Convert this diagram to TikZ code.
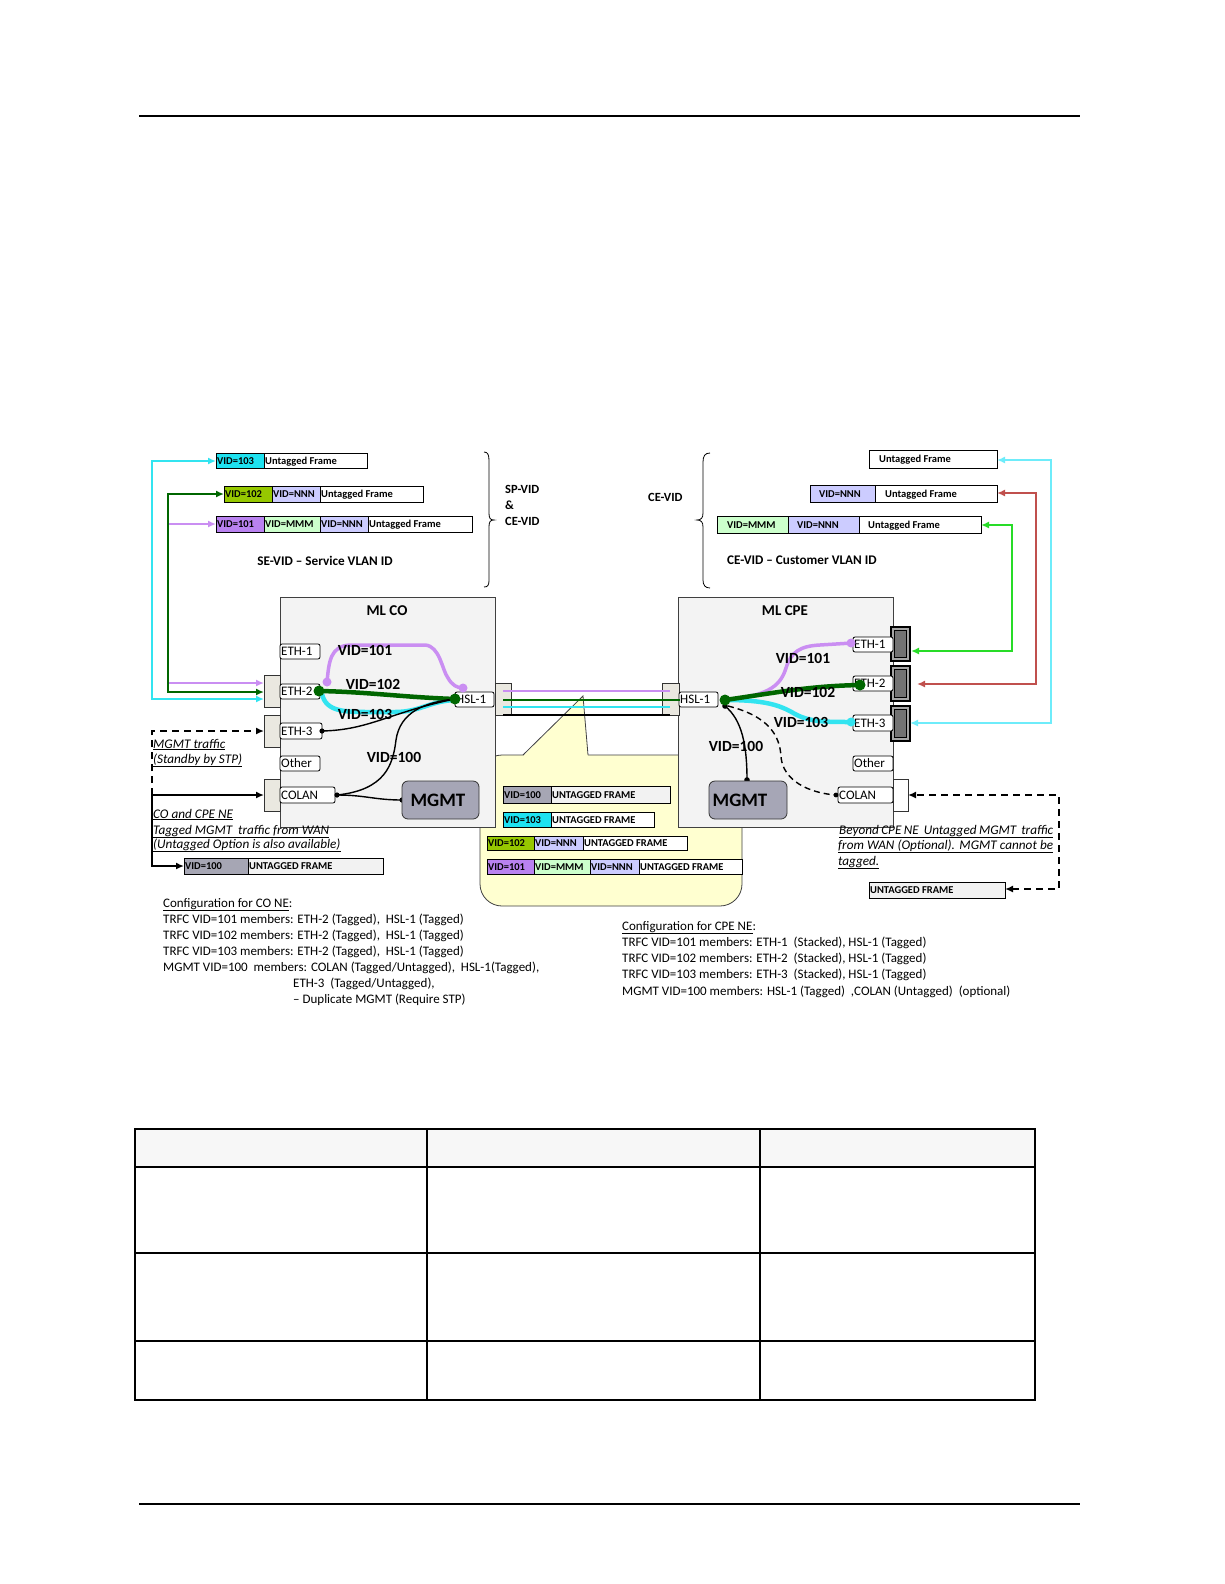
\documentclass[tikz,border=0pt]{standalone}
\usepackage{fontspec}
\setmainfont{Carlito}
\usetikzlibrary{arrows.meta}
\definecolor{cyanln}{RGB}{50,228,240}
\definecolor{cyanR}{RGB}{110,236,250}
\definecolor{cyanbox}{RGB}{30,226,240}
\definecolor{dgreen}{RGB}{0,102,0}
\definecolor{lavln}{RGB}{202,142,242}
\definecolor{purp}{RGB}{185,130,240}
\definecolor{olive}{RGB}{150,200,0}
\definecolor{lav}{RGB}{204,204,255}
\definecolor{lgreen}{RGB}{204,255,204}
\definecolor{gvid}{RGB}{166,166,180}
\definecolor{lgray}{RGB}{242,242,242}
\definecolor{boxfill}{RGB}{243,243,243}
\definecolor{portfill}{RGB}{234,232,224}
\definecolor{bgreen}{RGB}{40,220,40}
\definecolor{brownln}{RGB}{192,80,77}
\definecolor{yel}{RGB}{255,255,208}
\definecolor{mgmtfill}{RGB}{166,166,182}
\definecolor{hdr}{RGB}{247,247,247}
\tikzset{
  segline/.style={draw=black, line width=0.8pt},
  segtxt/.style={font=\fontsize{10.5}{12}\selectfont\bfseries, inner sep=0pt, anchor=base west},
  lboxline/.style={draw=black, line width=0.8pt, fill=white, rounded corners=2pt},
  lbl/.style={font=\fontsize{13}{15}\selectfont, inner sep=0pt, anchor=base west},
  vidlbl/.style={font=\fontsize{15.5}{17}\selectfont\bfseries, inner sep=0pt},
  title/.style={font=\fontsize{15}{17}\selectfont\bfseries, inner sep=0pt},
  bold12/.style={font=\fontsize{12.5}{14}\selectfont\bfseries, inner sep=0pt},
  caption/.style={font=\fontsize{13.2}{15}\selectfont\bfseries, inner sep=0pt},
  cfg/.style={font=\fontsize{13}{15}\selectfont, inner sep=0pt, anchor=base west},
  note/.style={font=\fontsize{13.2}{15}\selectfont\itshape, inner sep=0pt, anchor=base west},
  mlbox/.style={draw=black!75, line width=0.8pt, fill=boxfill},
  portblk/.style={draw=black!80, line width=0.8pt, fill=portfill},
  mgmtbox/.style={draw=black!80, line width=0.8pt, fill=mgmtfill, rounded corners=6pt},
  tip/.tip={Latex[length=8pt,width=7pt]},
  fat/.style={line width=2pt},
}
\newcommand\seg[8]{\draw[segline,fill=#2] (#3,#5) rectangle (#4,#6); \node[segtxt] (#1) at ({#3+#8},{(#5+#6)/2+3.5}) {#7};}
\newcommand\lbox[6]{\draw[lboxline] (#2,#4) rectangle (#3,#5); \node[lbl] (#1) at ({#2+1},{(#4+#5)/2+4.2}) {#6};}
\begin{document}
\begin{tikzpicture}[x=1pt,y=-1pt]
\useasboundingbox (0,0) rectangle (1224,1584);
\fill[white] (0,0) rectangle (1224,1584);
% page rules
\draw[line width=1.3pt] (139,116) -- (1080,116);
\draw[line width=1.3pt] (139,1504) -- (1080,1504);

% ---------- top left frames
\seg{f103a}{cyanbox}{216}{264}{453}{468}{VID=103}{1}
\seg{f103b}{white}{264}{367}{453}{468}{Untagged Frame}{1}
\seg{f102a}{olive}{224}{272}{486}{502}{VID=102}{1}
\seg{f102b}{lav}{272}{320}{486}{502}{VID=NNN}{1}
\seg{f102c}{white}{320}{423}{486}{502}{Untagged Frame}{1}
\seg{f101a}{purp}{216}{264}{516}{532}{VID=101}{1}
\seg{f101b}{lgreen}{264}{320}{516}{532}{VID=MMM}{1}
\seg{f101c}{lav}{320}{368}{516}{532}{VID=NNN}{1}
\seg{f101d}{white}{368}{472}{516}{532}{Untagged Frame}{1}
\node[caption, anchor=base] (sevid) at (325,565) {SE-VID – Service VLAN ID};

% braces
\draw[line width=0.8pt] (484,452) .. controls (488,452) and (489,455) .. (489,461) -- (489,513) .. controls (489,518) and (490,520) .. (494,520) .. controls (490,520) and (489,522) .. (489,527) -- (489,580) .. controls (489,585) and (488,587) .. (484,587);
\draw[line width=0.8pt] (710,453) .. controls (705,453) and (703,456) .. (703,462) -- (703,513) .. controls (703,518) and (701,520) .. (697,520) .. controls (701,520) and (703,522) .. (703,527) -- (703,580) .. controls (703,585) and (705,588) .. (710,588);
\node[bold12, anchor=base west] (spvid) at (505,493) {SP-VID};
\node[bold12, anchor=base west] (amp) at (505,509) {\&};
\node[bold12, anchor=base west] (cevid1) at (505,525) {CE-VID};
\node[bold12, anchor=base west] (cevid2) at (648,501) {CE-VID};

% ---------- top right frames
\seg{r1}{white}{869}{997}{450}{468}{Untagged Frame}{10}
\seg{r2a}{lav}{810}{875}{485}{502}{VID=NNN}{9}
\seg{r2b}{white}{875}{997}{485}{502}{Untagged Frame}{10}
\seg{r3a}{lgreen}{717}{788}{516}{533}{VID=MMM}{10}
\seg{r3b}{lav}{788}{859}{516}{533}{VID=NNN}{9}
\seg{r3c}{white}{859}{981}{516}{533}{Untagged Frame}{9}
\node[caption, anchor=base west] (cevidtxt) at (727,564) {CE-VID – Customer VLAN ID};

% ---------- yellow callout
\draw[draw=black!75, line width=0.8pt, fill=yel, rounded corners=22pt] (480,755) rectangle (742,906);
\fill[yel] (523,756) -- (583,696) -- (588,756) -- cycle;
\draw[line width=0.8pt, black!75] (523,755) -- (583,696) -- (588,755);

% ---------- ML boxes
\draw[mlbox] (280,597) rectangle (495,827);
\node[title] (mlco) at (387,611) {ML CO};
\draw[mlbox] (678,597) rectangle (893,827);
\node[title] (mlcpe) at (785,611) {ML CPE};

% port blocks
\draw[portblk] (264,675) rectangle (280,707);
\draw[portblk] (264,715) rectangle (280,747);
\draw[portblk] (264,779) rectangle (280,811);
\draw[portblk] (495,683) rectangle (511,715);
\draw[portblk] (662,683) rectangle (679,715);
\draw[draw=black!80, line width=0.8pt, fill=white] (893,779) rectangle (908,811);
\foreach \ya/\yb in {627/661, 666/701, 706/741}{
  \draw[draw=black, line width=1.6pt, fill=black!35] (891,\ya) rectangle (910,\yb);
  \draw[draw=black, line width=1.1pt, fill=black!55] (894.5,\ya+3.5) rectangle (906.5,\yb-3.5);
}

% label boxes CO
\lbox{coE1}{280}{320}{644}{659}{ETH-1}
\lbox{coE2}{280}{320}{684}{699}{ETH-2}
\lbox{coE3}{280}{322}{723}{739}{ETH-3}
\lbox{coOth}{280}{320}{756}{771}{Other}
\lbox{coCol}{280}{335}{787}{803}{COLAN}
\lbox{coHsl}{455}{494}{692}{707}{HSL-1}
% label boxes CPE
\lbox{cpHsl}{679}{718}{692}{707}{HSL-1}
\lbox{cpE1}{853}{893}{637}{652}{ETH-1}
\lbox{cpE2}{853}{893}{676}{691}{ETH-2}
\lbox{cpE3}{853}{893}{715}{731}{ETH-3}
\lbox{cpOth}{853}{893}{756}{771}{Other}
\lbox{cpCol}{838}{893}{787}{803}{COLAN}

% link lines
\draw[lavln, line width=2.5pt] (503,691) -- (670,691);
\draw[dgreen, line width=2.5pt] (503,700) -- (680,700);
\draw[cyanln, line width=2.5pt] (503,707) -- (670,707);
\draw[black, line width=2.5pt] (503,715) -- (670,715);

% ---------- CO internal curves
\draw[lavln, line width=3.5pt] (327,682) .. controls (329,662) and (330,646) .. (350,645) -- (425,645) .. controls (440,646) and (442,670) .. (448,678) .. controls (452,685) and (457,688) .. (463,688);
\fill[lavln] (327,682) circle (4.5);
\fill[lavln] (463,688) circle (4.5);
\draw[cyanln, line width=4.5pt] (322,694) .. controls (326,712) and (345,712) .. (370,712) -- (395,712) .. controls (420,712) and (430,701) .. (455,700);
\draw[dgreen, line width=4.5pt] (319,691) .. controls (370,692) and (400,697) .. (455,699);
\draw[black, line width=1.4pt] (322,731) .. controls (370,730) and (390,712) .. (455,699);
\draw[black, line width=1.4pt] (337,795) .. controls (385,790) and (393,765) .. (396,740) .. controls (400,712) and (425,702) .. (455,699);
\draw[black, line width=1.4pt] (337,795) .. controls (365,795) and (375,800) .. (402,800);
\fill (322,731) circle (2.6);
\fill (337,795) circle (2.6);
\fill (402,800) circle (2.6);
\fill[dgreen] (319,691) circle (5.5);
\fill[dgreen] (455,699) circle (5.5);

\draw[mgmtbox] (402,781) rectangle (479,819);
\node[font=\fontsize{19}{21}\selectfont\bfseries, inner sep=0pt] (coMgmt) at (438,800) {MGMT};

\node[vidlbl] (v101a) at (365,650) {VID=101};
\node[vidlbl] (v102a) at (373,684) {VID=102};
\node[vidlbl] (v103a) at (365,714) {VID=103};
\node[vidlbl] (v100a) at (394,757) {VID=100};

% ---------- CPE internal curves
\draw[lavln, line width=3.5pt] (725,700) .. controls (765,696) and (780,688) .. (786,668) .. controls (791,652) and (800,646) .. (820,645) -- (852,643);
\fill[lavln] (851,643) circle (4.5);
\draw[cyanln, line width=4.5pt] (725,700) .. controls (765,700) and (780,705) .. (795,714) .. controls (810,722) and (825,722) .. (852,722);
\fill[cyanln] (851,722) circle (4.5);
\draw[dgreen, line width=4.5pt] (725,700) .. controls (780,692) and (810,686) .. (860,685);
\fill[dgreen] (860,685) circle (5.5);
\draw[black, line width=1.4pt] (725,706) .. controls (742,720) and (747,745) .. (747,780);
\draw[black, line width=1.4pt, dash pattern=on 6pt off 4pt] (728,706) .. controls (768,716) and (780,735) .. (781,757) .. controls (783,780) and (808,793) .. (836,795);
\fill (747,780) circle (2.8);
\fill (725,706) circle (2.8);
\fill (836,795) circle (2.4);
\fill[dgreen] (725,700) circle (5.5);

\draw[mgmtbox] (709,781) rectangle (787,819);
\node[font=\fontsize{19}{21}\selectfont\bfseries, inner sep=0pt] (cpMgmt) at (740,800) {MGMT};

\node[vidlbl] (v101b) at (803,658) {VID=101};
\node[vidlbl] (v102b) at (808,692) {VID=102};
\node[vidlbl] (v103b) at (801,722) {VID=103};
\node[vidlbl] (v100b) at (736,746) {VID=100};

% ---------- yellow frames
\seg{y100a}{gvid}{503}{551}{786}{803}{VID=100}{1}
\seg{y100b}{lgray}{551}{670}{786}{803}{UNTAGGED FRAME}{1}
\seg{y103a}{cyanbox}{503}{551}{812}{827}{VID=103}{1}
\seg{y103b}{white}{551}{654}{812}{827}{UNTAGGED FRAME}{1}
\seg{y102a}{olive}{487}{534}{836}{850}{VID=102}{1}
\seg{y102b}{lav}{534}{583}{836}{850}{VID=NNN}{1}
\seg{y102c}{white}{583}{687}{836}{850}{UNTAGGED FRAME}{1}
\seg{y101a}{purp}{487}{534}{859}{874}{VID=101}{1}
\seg{y101b}{lgreen}{534}{590}{859}{874}{VID=MMM}{1}
\seg{y101c}{lav}{590}{639}{859}{874}{VID=NNN}{1}
\seg{y101d}{white}{639}{742}{859}{874}{UNTAGGED FRAME}{1}

% bottom frames
\seg{b100a}{gvid}{184}{248}{858}{874}{VID=100}{1}
\seg{b100b}{lgray}{248}{383}{858}{874}{UNTAGGED FRAME}{1}
\seg{cpU}{lgray}{869}{1005}{882}{898}{UNTAGGED FRAME}{1}

% ---------- connector end coordinates
\coordinate (cyT) at (216,461);  \coordinate (cyB) at (264,699);  \coordinate (cyK) at (152,580);
\coordinate (gnT) at (224,494);  \coordinate (gnB) at (264,692);  \coordinate (gnK) at (168,600);
\coordinate (lvT) at (216,524);  \coordinate (lvB) at (264,683);
\coordinate (dsE) at (264,731);  \coordinate (dsK) at (152,795);
\coordinate (coC) at (264,795);  \coordinate (coK) at (152,830); \coordinate (coV) at (184,866);
\coordinate (rgT) at (981,525);  \coordinate (rgB) at (911,651);  \coordinate (rgK) at (1012,600);
\coordinate (rbT) at (997,493);  \coordinate (rbB) at (917,684);  \coordinate (rbK) at (1036,600);
\coordinate (rcT) at (997,460);  \coordinate (rcB) at (910,723);  \coordinate (rcK) at (1051,600);
\coordinate (rdT) at (1005,889); \coordinate (rdB) at (908,795);  \coordinate (rdK) at (1059,850);

% left connectors
\draw[lavln, fat, tip-tip] (lvT) -| (gnK) |- (lvB);
\draw[cyanln, fat, tip-tip] (cyT) -| (cyK) |- (cyB);
\draw[dgreen, fat, tip-tip] (gnT) -| (gnK) |- (gnB);
\draw[black, line width=1.8pt, dash pattern=on 7pt off 5pt, -tip] (dsK) |- (dsE);
\draw[black, line width=1.8pt, tip-tip] (coC) -| (coK) |- (coV);
% right connectors
\draw[bgreen, fat, tip-tip] (rgT) -| (rgK) |- (rgB);
\draw[brownln, fat, tip-tip] (rbT) -| (rbK) |- (rbB);
\draw[cyanR, fat, tip-tip] (rcT) -| (rcK) |- (rcB);
\draw[black, line width=1.8pt, dash pattern=on 7pt off 5pt, tip-tip] (rdT) -| (rdK) |- (rdB);

% ---------- notes
\node[note] (n1) at (153,748) {\underline{MGMT traffic}};
\node[note] (n2) at (153,763) {\underline{(Standby by STP)}};
\node[note] (n3) at (153,818) {\underline{CO and CPE NE}};
\node[note] (n4) at (153,834) {\underline{Tagged MGMT\ \ traffic from WAN}};
\node[note] (n5) at (153,848) {\underline{(Untagged Option is also available)}};
\node[note] (n6) at (839,834) {\underline{\makebox[214pt][s]{Beyond CPE NE\ \ Untagged MGMT\ \ traffic}}};
\node[note] (n7) at (838,849) {\underline{\makebox[215pt][s]{from WAN (Optional). MGMT cannot be}}};
\node[note] (n8) at (838,865) {\underline{tagged.}};

% ---------- configuration texts
\node[cfg] (c1) at (163,907) {\underline{Configuration for CO NE}:};
\node[cfg] (c2) at (163,923) {TRFC VID=101 members: ETH-2 (Tagged),\ \ HSL-1 (Tagged)};
\node[cfg] (c3) at (163,939) {TRFC VID=102 members: ETH-2 (Tagged),\ \ HSL-1 (Tagged)};
\node[cfg] (c4) at (163,955) {TRFC VID=103 members: ETH-2 (Tagged),\ \ HSL-1 (Tagged)};
\node[cfg] (c5) at (163,971) {MGMT VID=100\ \ members: COLAN (Tagged/Untagged),\ \ HSL-1(Tagged),};
\node[cfg] (c6) at (293,987) {ETH-3\ \ (Tagged/Untagged),};
\node[cfg] (c7) at (293,1003) {– Duplicate MGMT (Require STP)};

\node[cfg] (d1) at (622,930) {\underline{Configuration for CPE NE}:};
\node[cfg] (d2) at (622,946) {TRFC VID=101 members: ETH-1\ \ (Stacked), HSL-1 (Tagged)};
\node[cfg] (d3) at (622,962) {TRFC VID=102 members: ETH-2\ \ (Stacked), HSL-1 (Tagged)};
\node[cfg] (d4) at (622,978) {TRFC VID=103 members: ETH-3\ \ (Stacked), HSL-1 (Tagged)};
\node[cfg] (d5) at (622,995) {MGMT VID=100 members: HSL-1 (Tagged)\ \ ,COLAN (Untagged)\ \ (optional)};

% ---------- table
\fill[hdr] (135,1129) rectangle (1035,1167);
\draw[line width=2.6pt] (134,1129) -- (1036,1129);
\draw[line width=1.6pt] (135,1167) -- (1035,1167);
\draw[line width=2.4pt] (135,1253) -- (1035,1253);
\draw[line width=2.4pt] (135,1341) -- (1035,1341);
\draw[line width=2.4pt] (134,1400) -- (1036,1400);
\draw[line width=2pt] (135,1129) -- (135,1400);
\draw[line width=1.6pt] (427,1129) -- (427,1400);
\draw[line width=1.6pt] (760,1129) -- (760,1400);
\draw[line width=2pt] (1035,1129) -- (1035,1400);
\end{tikzpicture}
\end{document}
